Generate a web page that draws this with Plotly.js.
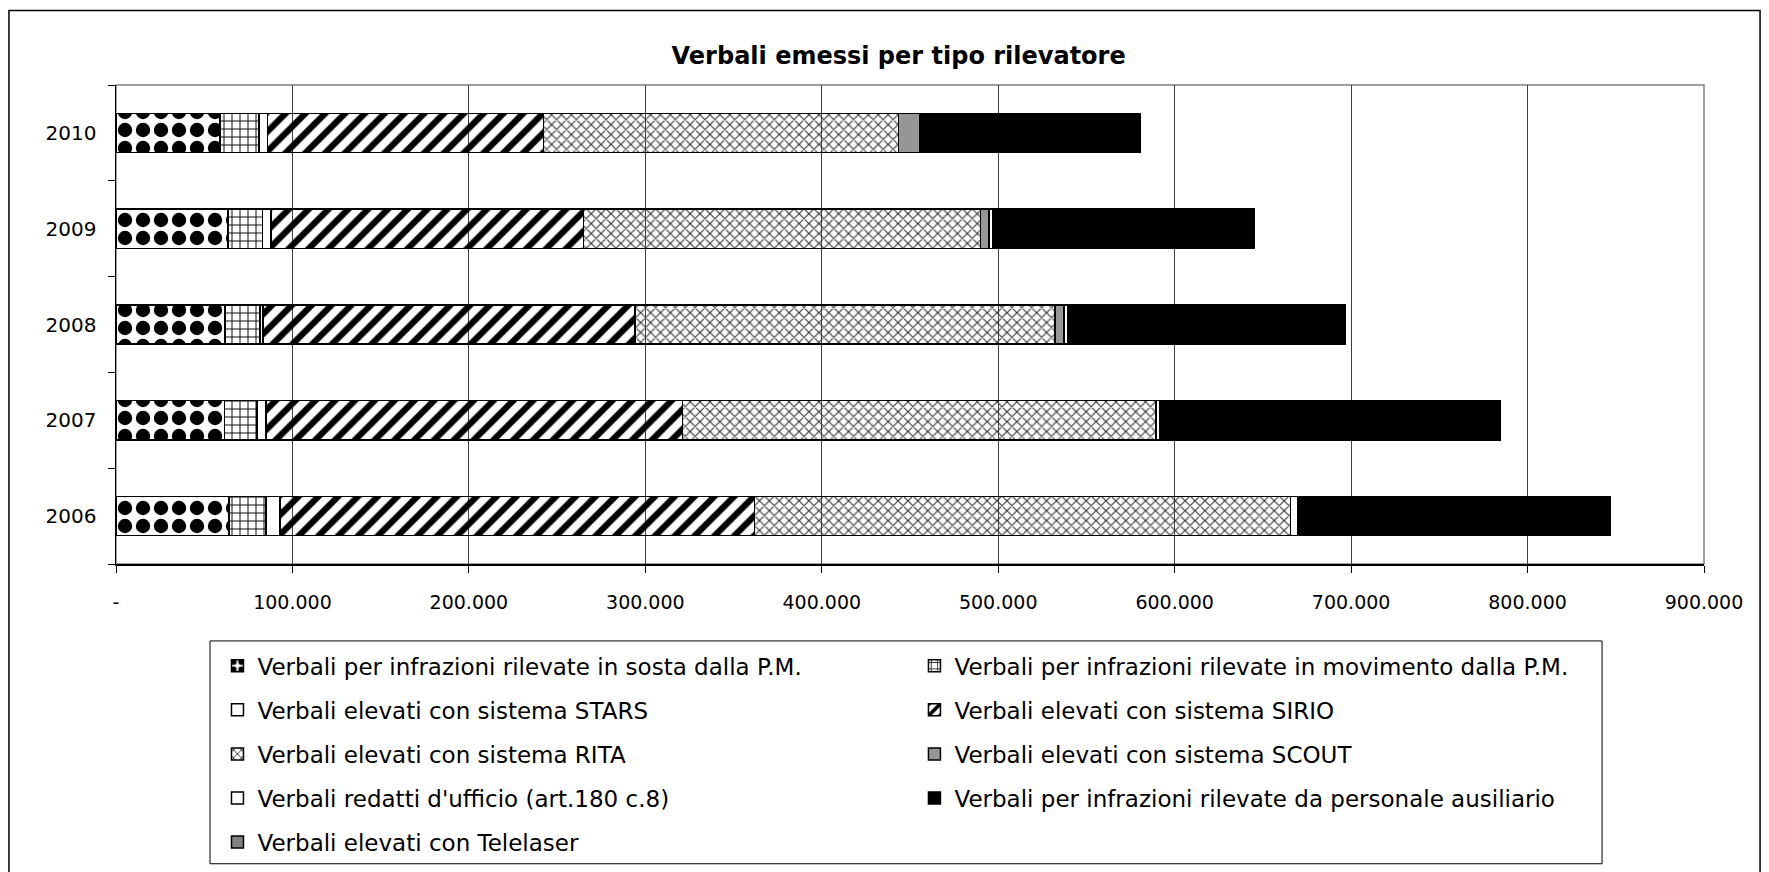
<!DOCTYPE html>
<html>
<head>
<meta charset="utf-8">
<script src="https://cdn.plot.ly/plotly-3.0.1.min.js"></script>
<style>
  html, body { margin: 0; padding: 0; background: #fff; }
  #chart { width: 1769px; height: 872px; }
</style>
</head>
<body>
<div id="chart"></div>
<script>
// ---- data ----
const years = ['2006', '2007', '2008', '2009', '2010'];
const sosta = [64100, 61500, 61900, 63600, 58900];
const movimento = [20800, 18400, 19800, 19500, 22100];
const stars = [8100, 5000, 1500, 4800, 4800];
const sirio = [268900, 236300, 211000, 177000, 156500];
const rita = [303800, 268000, 238000, 225000, 201100];
const scout = [0, 500, 5100, 5000, 12400];
const redatti = [4300, 1700, 2000, 2200, 1100];
const ausiliario = [176900, 193400, 157300, 148100, 123700];
const telelaser = [0, 0, 0, 0, 0];

const seriesNames = [
  'Verbali per infrazioni rilevate in sosta dalla P.M.',
  'Verbali per infrazioni rilevate in movimento dalla P.M.',
  'Verbali elevati con sistema STARS',
  'Verbali elevati con sistema SIRIO',
  'Verbali elevati con sistema RITA',
  'Verbali elevati con sistema SCOUT',
  "Verbali redatti d'ufficio (art.180 c.8)",
  'Verbali per infrazioni rilevate da personale ausiliario',
  'Verbali elevati con Telelaser'
];
const xTickVals = [0, 100000, 200000, 300000, 400000, 500000, 600000, 700000, 800000, 900000];
const xTickText = ['-', '100.000', '200.000', '300.000', '400.000', '500.000', '600.000', '700.000', '800.000', '900.000'];
const chartTitle = 'Verbali emessi per tipo rilevatore';

// ---- styles ----
const values = [sosta, movimento, stars, sirio, rita, scout, redatti, ausiliario, telelaser];
const styles = [
  {color: '#ffffff', pattern: {shape: '.', size: 18, solidity: 0.5, fgcolor: '#000000', fgopacity: 1}, legend: 'legend'},
  {color: '#ffffff', pattern: {shape: '+', size: 8, solidity: 0.22, fgcolor: '#000000', fgopacity: 1}, legend: 'legend2'},
  {color: '#ffffff', pattern: null, legend: 'legend'},
  {color: '#ffffff', pattern: {shape: '/', size: 14, solidity: 0.45, fgcolor: '#000000', fgopacity: 1}, legend: 'legend2'},
  {color: '#ffffff', pattern: {shape: 'x', size: 7, solidity: 0.3, fgcolor: '#333333', fgopacity: 1}, legend: 'legend'},
  {color: '#969696', pattern: null, legend: 'legend2'},
  {color: '#ffffff', pattern: null, legend: 'legend'},
  {color: '#000000', pattern: null, legend: 'legend2'},
  {color: '#808080', pattern: null, legend: 'legend'}
];

const traces = values.map((v, i) => {
  const marker = {color: styles[i].color, line: {color: '#000000', width: 1.5}};
  if (styles[i].pattern) marker.pattern = styles[i].pattern;
  return {
    type: 'bar',
    orientation: 'h',
    name: seriesNames[i],
    y: years,
    x: v,
    marker: marker,
    legend: styles[i].legend,
    legendgroup: 'g' + i,
    hoverinfo: 'x+name'
  };
});

const FONT = 'DejaVu Sans, Verdana, sans-serif';
const legendFont = {family: FONT, size: 23, color: '#000'};

const layout = {
  width: 1769,
  height: 872,
  paper_bgcolor: '#ffffff',
  plot_bgcolor: '#ffffff',
  font: {family: FONT, color: '#000'},
  margin: {l: 116, r: 65, t: 85, b: 308, autoexpand: false},
  barmode: 'stack',
  bargap: 0.59,
  title: {
    text: '<b>' + chartTitle + '</b>',
    font: {size: 24, family: FONT, color: '#000'},
    x: 0.508, xanchor: 'center', xref: 'container',
    y: 0.936, yanchor: 'middle', yref: 'container'
  },
  xaxis: {
    range: [0, 900000],
    tickvals: xTickVals,
    ticktext: xTickText,
    tickfont: {size: 19},
    showgrid: true,
    gridcolor: '#404040',
    gridwidth: 1,
    zeroline: false,
    showline: true,
    linecolor: '#000000',
    linewidth: 1.5,
    ticks: 'outside',
    ticklen: 7,
    tickcolor: '#000',
    ticklabelstandoff: 14,
    fixedrange: true
  },
  yaxis: {
    type: 'category',
    tickfont: {size: 20},
    showgrid: false,
    zeroline: false,
    showline: true,
    linecolor: '#000000',
    linewidth: 1.5,
    ticks: 'outside',
    ticklen: 7,
    tickcolor: '#000',
    tickson: 'boundaries',
    ticklabelstandoff: 14,
    fixedrange: true
  },
  legend: {
    x: 0.0639, xanchor: 'left', y: -0.1675, yanchor: 'top',
    orientation: 'v', traceorder: 'grouped', tracegroupgap: 11.2,
    font: legendFont, bgcolor: 'rgba(0,0,0,0)', borderwidth: 0
  },
  legend2: {
    x: 0.5028, xanchor: 'left', y: -0.1675, yanchor: 'top',
    orientation: 'v', traceorder: 'grouped', tracegroupgap: 11.2,
    font: legendFont, bgcolor: 'rgba(0,0,0,0)', borderwidth: 0
  },
  shapes: [
    // plot-area frame
    {type: 'rect', xref: 'paper', yref: 'paper', x0: 0, x1: 1, y0: 0, y1: 1,
     line: {color: '#808080', width: 1.5}, layer: 'below'},
    // legend frame
    {type: 'rect', xref: 'paper', yref: 'paper', x0: 0.0592, x1: 0.9358, y0: -0.6258, y1: -0.1606,
     line: {color: '#000000', width: 1}},
    // chart-area frame
    {type: 'rect', xref: 'paper', yref: 'paper', x0: -0.0674, x1: 1.0353, y0: -0.75, y1: 1.1556,
     line: {color: '#000000', width: 1.5}}
  ],
  showlegend: true
};

Plotly.newPlot('chart', traces, layout, {displayModeBar: false, staticPlot: true});
</script>
</body>
</html>
